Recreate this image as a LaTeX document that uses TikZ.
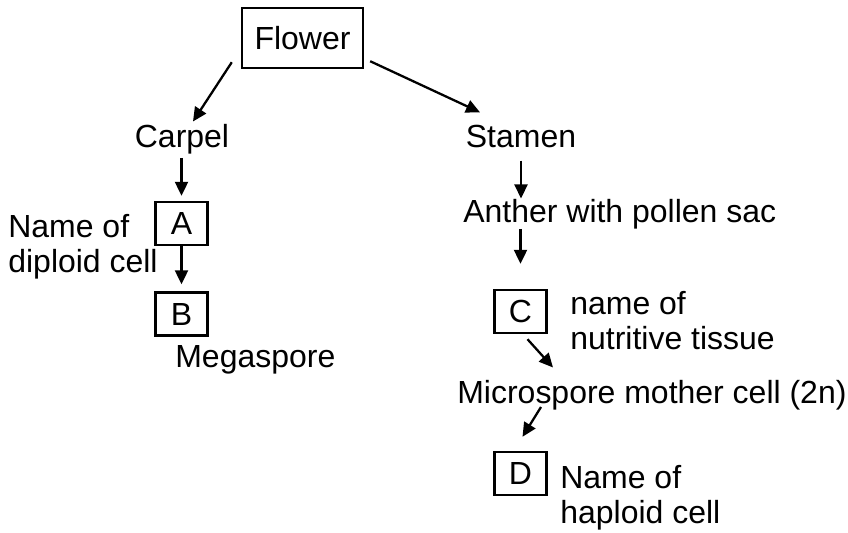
\documentclass[tikz,border=0pt]{standalone}
\usepackage{fontspec}
\setmainfont{Liberation Sans}
\usetikzlibrary{arrows.meta}

\begin{document}
\begin{tikzpicture}[x=0.02cm, y=-0.02cm]
		\tikzset{bx/.style={draw=black, line width=1.4pt, inner sep=0pt, minimum width=1.04cm, minimum height=0.86cm}};
		\tikzset{lbl/.style={inner sep=0pt, align=left}};
		\tikzset{arr/.style={line width=1.3pt, -{Triangle[length=0.28cm, width=0.26cm]}}};
		\fontsize{18.2pt}{19.6pt}\selectfont

		\useasboundingbox (0, 0) rectangle (848, 532);

		\node[bx, minimum width=2.42cm, minimum height=1.2cm] (flower) at (302.5, 38) {Flower};
		\node[lbl, anchor=base] (carpel) at (182, 147) {Carpel};
		\node[lbl, anchor=base] (stamen) at (521, 147) {Stamen};
		\node[bx] (a) at (181.5, 223.5) {A};
		\node[bx] (b) at (181.5, 314) {B};
		\node[lbl, anchor=base west] (diploid) at (8, 272) {Name of\\diploid cell};
		\node[lbl, anchor=base west] (mega) at (175, 367) {Megaspore};
		\node[lbl, anchor=base west] (anther) at (463, 222) {Anther with pollen sac};
		\node[bx] (c) at (520.5, 311.5) {C};
		\node[lbl, anchor=base west] (nutritive) at (570, 349) {name of\\nutritive tissue};
		\node[lbl, anchor=base west] (micro) at (457, 403) {Microspore mother cell (2n)};
		\node[bx] (d) at (520.5, 473.5) {D};
		\node[lbl, anchor=base west] (haploid) at (560, 523) {Name of\\haploid cell};

		\draw[arr] ([shift={(-9,-7)}]flower.south west) to ([shift={(11,-2)}]carpel.north);
		\draw[arr] ([shift={(6,-8)}]flower.south east) to ([shift={(-41,-12)}]stamen.north);

		\draw[arr] ([shift={(0,4)}]carpel.south -| a.north) to ([shift={(0,-5)}]a.north);
		\draw[arr] (a) to ([shift={(0,-7)}]b.north);

		\draw[arr] ([shift={(0,13)}]stamen.south) to (anther.north -| stamen.south);
		\draw[arr] (anther.south -| c.north) to ([shift={(0,-25)}]c.north);

		\draw[arr] ([shift={(7,5)}]c.south) to ([shift={(96,-12)}]micro.north west);
		\draw[arr] ([shift={(84,-3)}]micro.south west) to ([shift={(2,-14)}]d.north);
	\end{tikzpicture}
\end{document}
